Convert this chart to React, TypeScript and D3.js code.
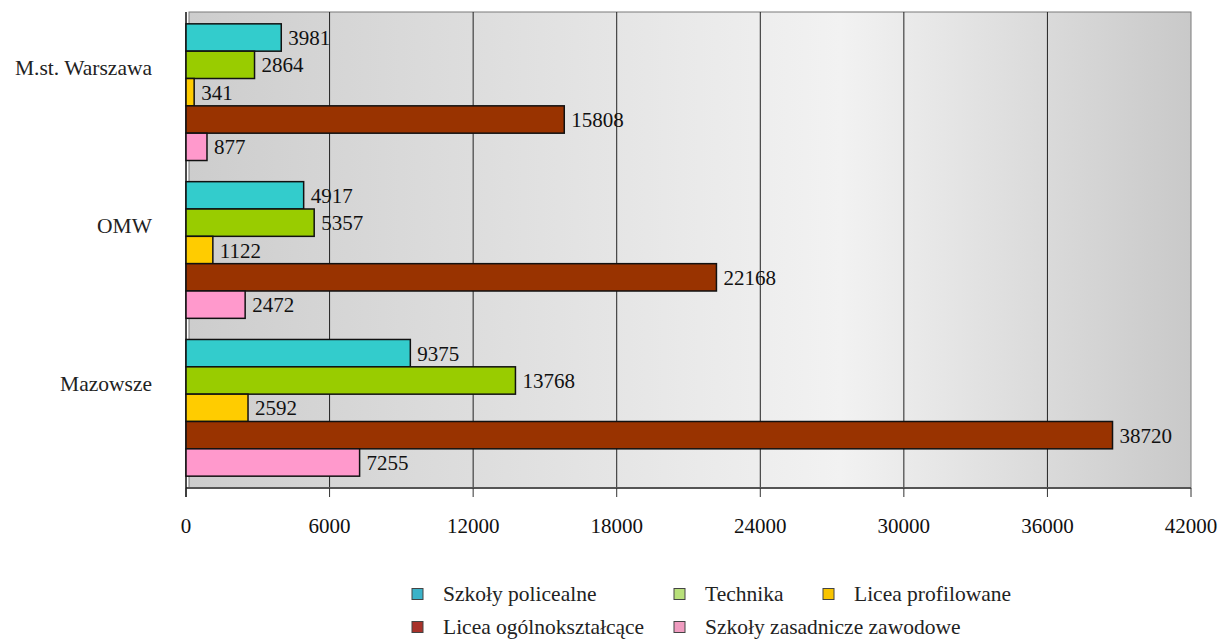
import React from 'react';
import * as d3 from 'd3';

// Dane
const categories = ['M.st. Warszawa', 'OMW', 'Mazowsze'];
const seriesNames = [
  'Szkoły policealne',
  'Technika',
  'Licea profilowane',
  'Licea ogólnokształcące',
  'Szkoły zasadnicze zawodowe',
];
const policealne = [3981, 4917, 9375];
const technika = [2864, 5357, 13768];
const profilowane = [341, 1122, 2592];
const ogolnoksztalcace = [15808, 22168, 38720];
const zasadnicze = [877, 2472, 7255];
const xTicks = [0, 6000, 12000, 18000, 24000, 30000, 36000, 42000];

const seriesValues = [policealne, technika, profilowane, ogolnoksztalcace, zasadnicze];
const barColors = ['#33CCCC', '#99CC00', '#FFCC00', '#993300', '#FF99CC'];
const legendColors = ['#3BB2C8', '#B8E07A', '#F8C400', '#A8322A', '#F09CC0'];

const width = 1218;
const height = 641;
const plot = { left: 186, right: 1191, top: 12, bottom: 488 };
const font = "'Liberation Serif', 'Times New Roman', Times, serif";

const App: React.FC = () => {
  const x = d3.scaleLinear().domain([0, 42000]).range([plot.left, plot.right]);

  const y = d3.scaleBand<string>()
    .domain(categories)
    .range([plot.top, plot.bottom])
    .paddingInner(0.134)
    .paddingOuter(0.075);

  const ySeries = d3.scaleBand<string>()
    .domain(seriesNames)
    .range([0, y.bandwidth()]);

  // układ legendy: dwa wiersze
  const legendRows = [[0, 1, 2], [3, 4]];
  const legendCols = [412, 674, 823];
  const legendRowY = [601, 634];

  return (
    <svg
      width={width}
      height={height}
      style={{ position: 'absolute', left: 0, top: 0, display: 'block', background: '#fff', fontFamily: font }}
    >
      <defs>
        <linearGradient id="wall" x1="0" x2="1" y1="0" y2="0">
          <stop offset="0%" stopColor="#cdcdcd" />
          <stop offset="65%" stopColor="#f2f2f2" />
          <stop offset="100%" stopColor="#c9c9c9" />
        </linearGradient>
      </defs>

      {/* tło obszaru wykresu */}
      <rect
        x={plot.left + 3}
        y={plot.top}
        width={plot.right - plot.left - 3}
        height={plot.bottom - plot.top}
        fill="url(#wall)"
        stroke="#7a7a7a"
        strokeWidth={1}
      />

      {/* siatka */}
      {xTicks.slice(1, -1).map(t => (
        <line key={'g' + t} x1={x(t)} x2={x(t)} y1={plot.top} y2={plot.bottom}
          stroke="#222" strokeWidth={1} />
      ))}

      {/* podłoga i oś */}
      <line x1={plot.left} x2={plot.right} y1={plot.bottom} y2={plot.bottom} stroke="#555" strokeWidth={2} />
      <line x1={plot.left} x2={plot.left} y1={plot.top} y2={plot.bottom + 9} stroke="#111" strokeWidth={1.5} />
      {xTicks.map(t => (
        <line key={'t' + t} x1={x(t)} x2={x(t)} y1={plot.bottom} y2={plot.bottom + 9}
          stroke="#333" strokeWidth={1} />
      ))}
      {xTicks.map(t => (
        <text key={'l' + t} x={x(t)} y={533} textAnchor="middle" fontSize={21} fill="#111">
          {t}
        </text>
      ))}

      {/* słupki */}
      {categories.map((c, ci) => (
        <g key={c}>
          {seriesNames.map((s, si) => {
            const v = seriesValues[si][ci];
            const y0 = (y(c) ?? 0) + (ySeries(s) ?? 0);
            const h = ySeries.bandwidth();
            return (
              <g key={s}>
                <rect x={x(0)} y={y0} width={x(v) - x(0)} height={h}
                  fill={barColors[si]} stroke="#111" strokeWidth={1.5} />
                <text x={x(v) + 7} y={y0 + h / 2 + 7.5} fontSize={21} fill="#111">
                  {v}
                </text>
              </g>
            );
          })}
          <text x={152} y={(y(c) ?? 0) + y.bandwidth() / 2 - 17} textAnchor="end" fontSize={21.5} fill="#222">
            {c}
          </text>
        </g>
      ))}

      {/* legenda */}
      {legendRows.map((row, ri) => row.map((si, ci) => (
        <g key={'lg' + si}>
          <rect x={legendCols[ci]} y={legendRowY[ri] - 12.5} width={11} height={11}
            fill={legendColors[si]} stroke="#444" strokeWidth={1} />
          <text x={legendCols[ci] + 31} y={legendRowY[ri]} fontSize={21.5} fill="#222">
            {seriesNames[si]}
          </text>
        </g>
      )))}
    </svg>
  );
};

export default App;
